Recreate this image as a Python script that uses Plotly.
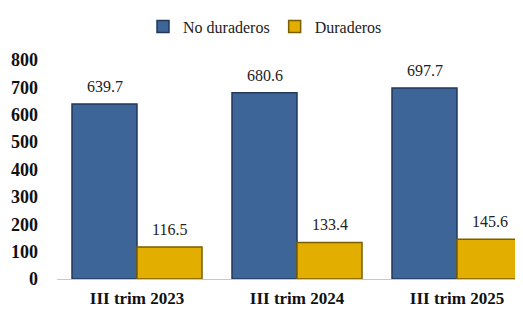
import plotly.graph_objects as go

categories = ["III trim 2023", "III trim 2024", "III trim 2025"]
no_duraderos = [639.7, 680.6, 697.7]
duraderos = [116.5, 133.4, 145.6]
y_ticks = [0, 100, 200, 300, 400, 500, 600, 700, 800]

FONT = "Liberation Serif"

fig = go.Figure()
fig.add_trace(go.Bar(
    name="No duraderos", x=categories, y=no_duraderos,
    marker=dict(color="#3E6598", line=dict(color="#22395A", width=1.5)),
))
fig.add_trace(go.Bar(
    name="Duraderos", x=categories, y=duraderos,
    marker=dict(color="#E2AE00", line=dict(color="#7A5E00", width=1.5)),
))

# value labels above each bar (offset to the left / right half of each group)
for values, shift in ((no_duraderos, -32.5), (duraderos, 32.5)):
    for cat, v in zip(categories, values):
        fig.add_annotation(x=cat, y=v, xref="x", yref="y", text=f"{v:.1f}",
                           showarrow=False, xshift=shift, yshift=7,
                           yanchor="bottom",
                           font=dict(family=FONT, size=16, color="#222"))

fig.update_layout(
    width=515, height=302,
    margin=dict(l=49, r=0, t=52, b=31, autoexpand=False),
    paper_bgcolor="white", plot_bgcolor="white",
    barmode="group", bargap=0.1875, bargroupgap=0,
    font=dict(family=FONT, color="#111"),
    showlegend=True,
    legend=dict(orientation="h", xref="container", x=257 / 515, xanchor="center",
                yref="container", y=0.995, yanchor="top",
                font=dict(family=FONT, size=16, color="#222"),
                itemwidth=30, bgcolor="rgba(0,0,0,0)"),
    xaxis=dict(range=[-0.5, 2.4125], showgrid=False, showline=True,
               linecolor="#C8C8C8", linewidth=1, ticks="",
               ticklabelstandoff=4,
               tickfont=dict(family=FONT, size=17, color="#111", weight="bold")),
    yaxis=dict(range=[0, 800], tickvals=y_ticks, showgrid=False,
               showline=False, zeroline=False, ticks="",
               ticklabelstandoff=18,
               tickfont=dict(family=FONT, size=18, color="#111", weight="bold")),
)

fig.write_html("out.html")
